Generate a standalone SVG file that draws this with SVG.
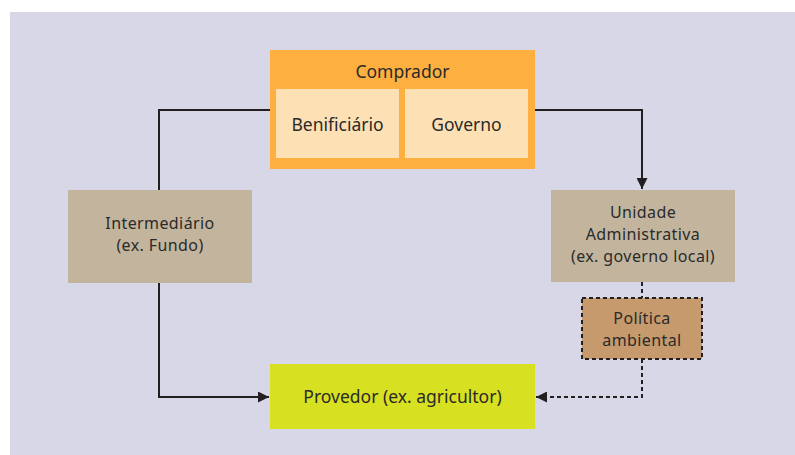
<svg xmlns="http://www.w3.org/2000/svg" width="795" height="455" viewBox="0 0 795 455">
<style>
text{font-family:"Noto Sans","DejaVu Sans",sans-serif;font-size:17.5px;fill:#2a2a2a;text-anchor:middle}
text.m{font-size:16px;letter-spacing:0.4px}
.ln{fill:none;stroke:#231f20;stroke-width:2}
.dash{stroke-dasharray:4,3}
</style>
<defs>
<marker id="ah" viewBox="0 0 10 10" refX="10" refY="5" markerWidth="11" markerHeight="11" markerUnits="userSpaceOnUse" orient="auto">
<path d="M0,0 L10,5 L0,10 z" fill="#231f20"/>
</marker>
</defs>
<rect x="10" y="12" width="785" height="443" fill="#d8d7e7"/>
<g id="connectors">
<path class="ln" d="M270,110 H159 V190"/>
<path class="ln" d="M159,283 V397 H269" marker-end="url(#ah)"/>
<path class="ln" d="M535,110 H642 V189" marker-end="url(#ah)"/>
<path class="ln dash" d="M642,282 V298"/>
<path class="ln dash" d="M642,359 V397 H536" marker-end="url(#ah)"/>
</g>
<g id="comprador">
<rect x="270" y="50" width="265" height="119" fill="#fdb040"/>
<text x="402.5" y="78">Comprador</text>
</g>
<g id="benificiario">
<rect x="276" y="89" width="123" height="69" fill="#fee0b5"/>
<text x="337.5" y="131">Benificiário</text>
</g>
<g id="governo">
<rect x="405" y="89" width="123" height="69" fill="#fee0b5"/>
<text x="466.5" y="131">Governo</text>
</g>
<g id="intermediario">
<rect x="68" y="190" width="184" height="93" fill="#c3b59d"/>
<text class="m" x="160" y="228.5">Intermediário</text>
<text class="m" x="160" y="250.5">(ex. Fundo)</text>
</g>
<g id="unidade">
<rect x="551" y="190" width="184" height="92" fill="#c3b59d"/>
<text class="m" x="643" y="218">Unidade</text>
<text class="m" x="643" y="240">Administrativa</text>
<text class="m" x="643" y="262">(ex. governo local)</text>
</g>
<g id="politica">
<rect x="582" y="298" width="120" height="61" fill="#c69a6d" stroke="#231f20" stroke-width="2" stroke-dasharray="4,3"/>
<text class="m" x="642" y="324">Política</text>
<text class="m" x="642" y="346">ambiental</text>
</g>
<g id="provedor">
<rect x="270" y="364" width="265" height="65" fill="#d7e021"/>
<text x="402.5" y="403">Provedor (ex. agricultor)</text>
</g>
</svg>
